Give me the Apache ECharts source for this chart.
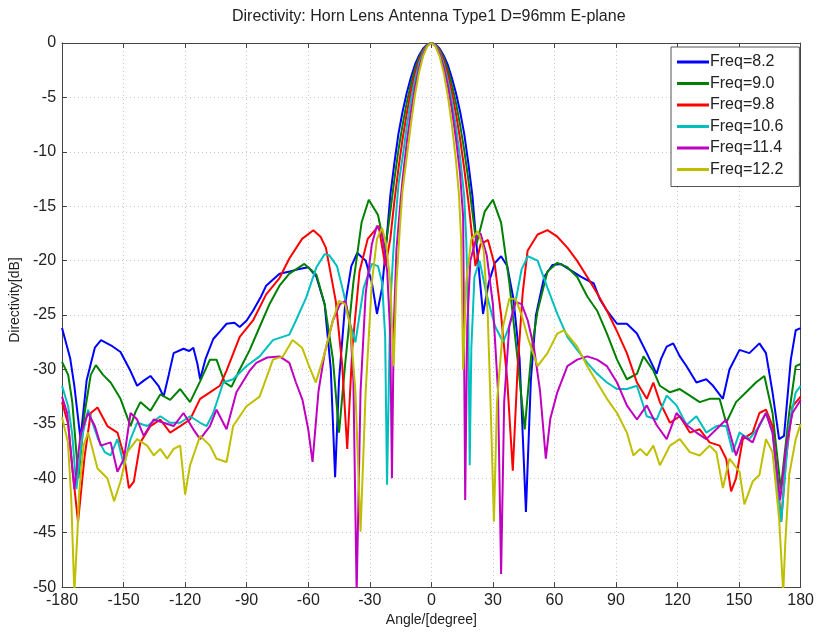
<!DOCTYPE html>
<html>
<head>
<meta charset="utf-8">
<script src="https://cdn.jsdelivr.net/npm/echarts@6/dist/echarts.min.js"></script>
<style>
html,body{margin:0;padding:0;background:#fff;}
#chart{width:817px;height:632px;}
</style>
</head>
<body>
<div id="chart"></div>
<script>
// ---- Data (angle in degrees, directivity in dB) ----
const seriesNames = ['Freq=8.2', 'Freq=9.0', 'Freq=9.8', 'Freq=10.6', 'Freq=11.4', 'Freq=12.2'];
const xTicks = [-180, -150, -120, -90, -60, -30, 0, 30, 60, 90, 120, 150, 180];
const yTicks = [0, -5, -10, -15, -20, -25, -30, -35, -40, -45, -50];

const f82 = [
 [-180,-26.2],[-176,-29],[-174,-31.5],[-171,-36.4],[-168,-31],[-164,-28],[-161,-27.3],[-156,-27.8],[-151.5,-28.4],
 [-147,-30],[-143.4,-31.5],[-140,-31],[-136.9,-30.6],[-133,-31.5],[-130.5,-32.5],[-128,-30.5],[-125.6,-28.5],
 [-120.8,-28.1],[-118,-28.3],[-116,-28],[-114,-29.5],[-112.7,-30.9],[-110,-29],[-106.3,-27.2],[-103,-26.5],
 [-99.8,-25.8],[-96,-25.7],[-93.4,-26.1],[-90,-25.5],[-86.9,-24.6],[-83,-23.3],[-80.5,-22.3],[-77,-21.7],
 [-74,-21.2],[-69,-21.0],[-65,-20.8],[-60,-20.6],[-56,-21.5],[-52,-24],[-49,-30],[-46.9,-39.9],[-45,-31],
 [-42,-24],[-39,-20.5],[-36.1,-19.3],[-32,-20],[-29,-22],[-26.5,-24.9],[-24,-22.5],[-22,-18.5],[-20,-14],
 [-18,-11],[-16,-8.3],[-14,-6.3],[-12,-4.6],[-10,-3.2],[-8,-2.0],[-6,-1.15],[-4,-0.5],[-2,-0.13],[0,0],
 [2,-0.13],[4,-0.5],[6,-1.15],[8,-2.0],[10,-3.2],[12,-4.6],[14,-6.3],[16,-8.3],[18,-11],[20,-14],[22,-18.5],
 [24,-22.5],[25.2,-24.9],[28,-22],[31,-20.2],[34,-19.6],[37,-20.5],[40,-23.5],[43,-29],[46.1,-43.1],[48.5,-31],
 [51,-25],[55,-21.5],[59,-20.4],[63,-20.3],[68,-20.9],[73,-21.5],[79.2,-22.1],[82,-23.5],[85.6,-24.6],
 [90.5,-25.8],[95.3,-25.8],[100.2,-26.7],[105,-28.5],[109.8,-30.4],[112,-29],[114.7,-27.9],[117.9,-27.6],
 [121.1,-28.8],[124.4,-29.7],[129.2,-31.2],[134,-30.9],[137.3,-31.5],[142.1,-32.7],[145.3,-30],[150.2,-28.2],
 [155,-28.5],[159.9,-27.6],[163.1,-28.5],[166.3,-32.1],[169.5,-36.4],[171.9,-36.1],[175.2,-29.1],[177.6,-26.4],[180,-26.2]
];

const f90 = [
 [-180,-29.3],[-177,-30.5],[-175,-33],[-172,-40],[-169,-34],[-166,-30.5],[-163.5,-29.6],[-160,-30.5],[-156.3,-31.2],
 [-151.5,-32.7],[-146.6,-35.2],[-144.2,-33.9],[-141.8,-33.0],[-136.9,-33.8],[-132.1,-32.3],[-127.3,-32.8],
 [-122.4,-31.8],[-117.6,-33.0],[-112.7,-31.1],[-107.9,-29.1],[-104.7,-29.1],[-100.7,-31.2],[-97.4,-31.6],
 [-93.4,-30.0],[-88.5,-28.2],[-83.7,-26.1],[-78.9,-24.0],[-74,-22.3],[-69.2,-21.2],[-66,-20.8],[-61.9,-20.3],
 [-56,-21.3],[-52,-24],[-48,-29],[-45,-35.8],[-42,-29.5],[-38,-22],[-34,-16.5],[-30.5,-14.4],[-26,-15.8],
 [-22.5,-19],[-20,-15.5],[-18,-12.5],[-16,-9.8],[-14,-7.5],[-12,-5.5],[-10,-3.8],[-8,-2.4],[-6,-1.35],
 [-4,-0.6],[-2,-0.15],[0,0],[2,-0.15],[4,-0.6],[6,-1.35],[8,-2.4],[10,-3.8],[12,-5.5],[14,-7.5],[16,-9.8],
 [18,-12.5],[20,-15.5],[22,-18.5],[26,-15.5],[30,-14.4],[34,-16.5],[38,-22],[42,-29],[45.5,-35.5],[49,-28],
 [51.8,-24.6],[56.6,-21],[61.4,-20.2],[66.3,-20.6],[71.1,-21.5],[76,-23.3],[80.8,-24.6],[85.6,-26.7],
 [90.5,-29.1],[95.3,-30.9],[100.2,-30.4],[103.4,-28.8],[108.2,-30.1],[111.4,-31.5],[116.3,-32.1],[121.1,-31.8],
 [126,-32.4],[130.8,-33.0],[135.6,-32.7],[140.5,-32.7],[143.7,-34.9],[148.5,-33.0],[153.4,-32.1],[158.2,-31.2],
 [162.3,-30.6],[166.3,-34],[170.3,-41],[174.4,-34],[177.6,-29.7],[180,-29.5]
];

const f98 = [
 [-180,-33],[-177,-35],[-175,-39],[-172.2,-44],[-169,-38],[-166,-34],[-162.7,-33.5],[-157.9,-35.2],[-153,-35.8],
 [-149.8,-37.9],[-147.4,-40.9],[-145,-40.3],[-141.8,-36.7],[-136.9,-35.2],[-132.1,-34.6],[-127.3,-35.8],
 [-122.4,-35.2],[-117.6,-34.6],[-112.7,-32.7],[-107.9,-32.1],[-103.1,-31.5],[-99.8,-30.1],[-93.4,-27.0],
 [-86.9,-25.5],[-80.5,-23.1],[-74,-21.6],[-69.2,-19.8],[-63,-18],[-57.5,-17.2],[-54,-17.8],[-51.4,-18.8],
 [-46.6,-23.7],[-43.4,-29.7],[-41,-37.3],[-38.5,-28],[-35,-21],[-31,-18],[-25.7,-16.8],[-22.4,-20.5],
 [-20,-18],[-18,-14.5],[-16,-11.5],[-14,-8.8],[-12,-6.5],[-10,-4.5],[-8,-2.85],[-6,-1.6],[-4,-0.7],[-2,-0.18],
 [0,0],[2,-0.18],[4,-0.7],[6,-1.6],[8,-2.85],[10,-4.5],[12,-6.5],[14,-8.8],[16,-11.5],[18,-14.5],[20,-18],
 [21.5,-20.5],[24,-18.5],[27.6,-18.1],[31,-20.5],[34,-25],[37,-31],[39.7,-39.3],[42.1,-29.7],[44.5,-23],
 [46.9,-19.1],[51.8,-17.6],[56.6,-17.2],[61.4,-17.8],[66.3,-18.8],[71,-20],[76,-21.5],[80.8,-23],[85.6,-24.6],
 [90.5,-26.5],[95.3,-28.5],[100.2,-31.2],[105,-32.7],[108.2,-31.2],[111.4,-33],[116.3,-34.9],[121.1,-34.3],
 [126,-35.8],[130.8,-35.5],[135.6,-36.7],[140.5,-37],[143.7,-38.2],[146.1,-41.2],[148.5,-40],[151.8,-36.4],
 [156.6,-35.8],[159.9,-34],[163.1,-33.7],[166.3,-35.2],[170.5,-44],[173,-38],[176,-33.4],[180,-32.5]
];

const f106 = [
 [-180,-31.5],[-177,-33.4],[-175,-36],[-173,-41],[-170,-36],[-167.3,-33.7],[-162.4,-36.4],[-159.2,-37.6],
 [-156.3,-37.9],[-153,-36.4],[-149.8,-38.8],[-146.6,-36.4],[-143.4,-34.9],[-138.5,-35.2],[-132.1,-34.3],
 [-127.3,-34.9],[-122.4,-34.9],[-117.6,-34.3],[-112.7,-34.9],[-109.5,-35.2],[-106.3,-34.0],[-101.4,-31.2],
 [-96.6,-30.9],[-90.2,-29.7],[-83.7,-28.8],[-77.2,-27.3],[-69.2,-26.8],[-66,-25.5],[-61,-23.4],[-56,-20.6],
 [-52,-19.4],[-49.8,-19.5],[-46,-20.5],[-42.6,-23.1],[-40,-25.5],[-37,-27.5],[-33,-22.5],[-29,-20.3],
 [-26,-20.5],[-24,-22],[-22.5,-27],[-21.6,-40.6],[-20,-24],[-18,-17.5],[-16,-13],[-14,-10.5],[-12,-7.7],
 [-10,-5.3],[-8,-3.4],[-6,-1.9],[-4,-0.85],[-2,-0.2],[0,0],[2,-0.2],[4,-0.85],[6,-1.9],[8,-3.4],[10,-5.3],
 [12,-7.7],[14,-10.5],[16,-14],[17,-18],[18,-25],[18.7,-38.8],[19.5,-28],[21,-21.5],[23.5,-20],[26.8,-23],
 [31,-26],[35,-27.5],[38,-26],[40.5,-24.3],[44,-20.8],[47,-19.6],[51.8,-20],[56.6,-22.5],[61.4,-24.9],
 [66.3,-27],[71.1,-28.2],[76,-29.4],[80.8,-30.4],[85.6,-31.2],[90.5,-31.8],[95.3,-31.8],[100.2,-31.5],
 [105,-34.3],[109.8,-34.6],[114.7,-32.4],[119.5,-33.3],[124.4,-35.1],[129.2,-34.3],[134,-35.8],[138.9,-35.2],
 [143.7,-35.2],[146.9,-37.6],[150.2,-35.8],[155,-36.4],[159.9,-35.2],[163.1,-34],[166.3,-35.8],[170.5,-44],
 [174.4,-35.1],[177.6,-32.1],[180,-31.5]
];

const f114 = [
 [-180,-32.5],[-177.5,-34],[-174,-41],[-171,-36],[-167.3,-34],[-164,-35.2],[-161.1,-37],[-156.3,-36.7],
 [-153,-39.4],[-149.8,-38.2],[-146.6,-34],[-143.4,-34.6],[-140.2,-36.1],[-135.3,-34.6],[-130.5,-34.9],
 [-125.6,-35.2],[-120.8,-34],[-116,-35.5],[-112.7,-36.4],[-107.9,-35.2],[-104.7,-33.7],[-99.8,-35.5],
 [-95,-32.1],[-88.5,-30.1],[-85.3,-29.4],[-80,-28.9],[-74,-28.8],[-69.2,-29.4],[-66,-31.2],[-62.8,-32.8],
 [-60,-35.5],[-57.9,-38.5],[-55,-32],[-52,-28.5],[-48,-25.5],[-44.5,-24],[-41.8,-23.7],[-39.5,-26],[-38,-31],
 [-36.4,-50.5],[-34.5,-32],[-32,-23],[-29,-18.5],[-26.5,-16.8],[-24,-17.5],[-21.5,-21],[-20,-27],[-19.2,-40],
 [-18.3,-26],[-17,-19],[-15,-14.5],[-14,-12.5],[-12,-9.2],[-10,-6.4],[-8,-4.1],[-6,-2.3],[-4,-1.05],[-2,-0.26],
 [0,0],[2,-0.26],[4,-1.0],[6,-2.2],[8,-3.9],[10,-6.1],[12,-8.8],[14,-12],[15.5,-16],[16.5,-42],[17.5,-26],
 [19,-20],[21.9,-17.9],[24,-17.5],[27,-19.5],[30,-24],[32.5,-32],[34,-48.8],[35.5,-33],[38,-26],[41,-23.8],
 [44,-24],[47,-25.5],[50,-28],[53,-32],[55.8,-38.2],[58,-34.5],[61.4,-32.1],[66.3,-29.7],[71.1,-29.1],
 [76,-28.8],[80.8,-29.1],[85.6,-29.7],[90.5,-31.2],[95.3,-33.3],[100.2,-34.6],[105,-33.3],[109.8,-35.1],
 [114.7,-36.4],[119.5,-34],[124.4,-35.1],[129.2,-35.8],[134,-36.4],[138.9,-35.5],[143.7,-34.6],[148.5,-37.9],
 [151.8,-36.1],[156.6,-36.7],[159.9,-35.1],[163.1,-34],[166.3,-35.8],[170,-42],[173,-37],[176,-34],[180,-32.8]
];

const f122 = [
 [-180,-34.4],[-177.1,-36.7],[-175.5,-42],[-174,-50.5],[-172.5,-45],[-171.6,-41.2],[-169.5,-37],[-167.3,-35.8],
 [-166,-36.7],[-162.7,-39.1],[-157.9,-40.0],[-154.6,-42.1],[-151.5,-40.3],[-148.2,-37.6],[-143.4,-36.4],
 [-138.5,-37],[-135.3,-37.9],[-132.1,-37.3],[-128.8,-38.2],[-125.6,-37.3],[-122.4,-37],[-120,-41.5],
 [-117.6,-38.8],[-112.7,-36.1],[-107.9,-37],[-104.7,-38.2],[-99.8,-38.5],[-96.6,-35.2],[-90.2,-33.4],
 [-83.7,-32.5],[-77.2,-29.1],[-72.4,-28.8],[-67.6,-27.3],[-63,-28],[-60,-29.5],[-56.3,-31.2],[-52,-28.5],
 [-48,-25.5],[-45,-23.7],[-42,-24],[-39.5,-26],[-37,-32],[-34.5,-44.9],[-32,-32],[-29,-22],[-26.5,-18],
 [-24,-17],[-22,-18.5],[-20,-22],[-18.4,-29.7],[-17,-22],[-15,-16],[-14,-13.5],[-12,-10.5],[-10,-7.5],
 [-8,-4.8],[-6,-2.7],[-4,-1.2],[-2,-0.3],[0,0],[2,-0.3],[4,-1.2],[6,-2.7],[8,-4.8],[10,-7.5],[12,-10.8],
 [13.5,-14],[14.5,-18],[15.5,-30],[17,-22],[19.5,-18],[22.7,-17.3],[25.5,-19],[27.5,-25],[29,-34],[30.5,-44],
 [32,-33],[35,-26],[38,-23.5],[41,-23.5],[44,-25],[46.9,-27],[51.8,-29.7],[56.6,-28.5],[61.4,-26.7],
 [64.6,-26.4],[71.1,-27.9],[76,-29.7],[80.8,-31.2],[85.6,-32.7],[90.5,-34],[95.3,-35.8],[98.5,-37.9],
 [101.8,-37.3],[105,-37.9],[108.2,-37],[111.4,-38.8],[116.3,-37],[121.1,-36.4],[126,-37.6],[130.8,-37.9],
 [135.6,-37],[138.9,-37.6],[142.1,-40.9],[145.3,-38.2],[150.2,-39.4],[152.6,-42.4],[156.6,-40.3],
 [159.9,-39.7],[163.1,-36.4],[166.3,-37.6],[169.5,-43.7],[171.5,-50.5],[172.5,-46],[174.4,-39.7],
 [177.6,-36.4],[180,-35]
];

const seriesData = [f82, f90, f98, f106, f114, f122];
const colors = ['#0000ff', '#008000', '#ff0000', '#00bfbf', '#bf00bf', '#bfbf00'];

// ---- Chart ----
const chart = echarts.init(document.getElementById('chart'), null, {renderer: 'canvas'});
const FONT = 'Liberation Sans, Arial, sans-serif';
const gridLine = {show: true, lineStyle: {color: '#c8c8c8', type: [1, 3], width: 1}};
const axisLineStyle = {show: true, onZero: false, lineStyle: {color: '#444', width: 1}};
const tickStyle = {show: true, inside: true, length: 5, lineStyle: {color: '#444'}};

const option = {
  animation: false,
  backgroundColor: '#fff',
  title: {
    text: 'Directivity: Horn Lens Antenna Type1 D=96mm E-plane',
    left: 232,
    top: 9,
    padding: 0,
    textStyle: {fontFamily: FONT, fontSize: 16, fontWeight: 'normal', color: '#222'}
  },
  legend: {
    data: seriesNames,
    orient: 'vertical',
    left: 671,
    top: 47,
    padding: [7, 16, 9, 6],
    itemGap: 5.5,
    itemWidth: 32,
    itemHeight: 3,
    icon: 'rect',
    backgroundColor: '#fff',
    borderColor: '#555',
    borderWidth: 1,
    borderRadius: 0,
    textStyle: {fontFamily: FONT, fontSize: 16, lineHeight: 16, color: '#222', padding: [0, 0, 0, -4]}
  },
  grid: {left: 61, right: 12, top: 43, bottom: 39, containLabel: false},
  xAxis: [{
    type: 'value', min: -180, max: 180, interval: 30,
    name: 'Angle/[degree]', nameLocation: 'middle', nameGap: 24,
    nameTextStyle: {fontFamily: FONT, fontSize: 14, color: '#222'},
    axisLine: axisLineStyle,
    axisTick: tickStyle,
    axisLabel: {fontFamily: FONT, fontSize: 16, color: '#222', margin: 5},
    splitLine: gridLine
  }, {
    type: 'value', min: -180, max: 180, interval: 30, position: 'top',
    axisLine: axisLineStyle,
    axisTick: tickStyle,
    axisLabel: {show: false}, splitLine: {show: false}
  }],
  yAxis: [{
    type: 'value', min: -50, max: 0, interval: 5,
    name: 'Directivity[dB]', nameLocation: 'middle', nameGap: 33,
    nameTextStyle: {fontFamily: FONT, fontSize: 14, color: '#222', padding: [0, 0, 0, 30]},
    axisLine: axisLineStyle,
    axisTick: tickStyle,
    axisLabel: {fontFamily: FONT, fontSize: 16, color: '#222', margin: 6},
    splitLine: gridLine
  }, {
    type: 'value', min: -50, max: 0, interval: 5, position: 'right',
    axisLine: axisLineStyle,
    axisTick: tickStyle,
    axisLabel: {show: false}, splitLine: {show: false}
  }],
  series: seriesData.map((d, i) => ({
    name: seriesNames[i],
    type: 'line',
    data: d,
    xAxisIndex: 0,
    yAxisIndex: 0,
    symbol: 'none',
    showSymbol: false,
    clip: true,
    smooth: false,
    color: colors[i],
    lineStyle: {color: colors[i], width: 2},
    z: 2 + i
  }))
};
chart.setOption(option);
</script>
</body>
</html>
